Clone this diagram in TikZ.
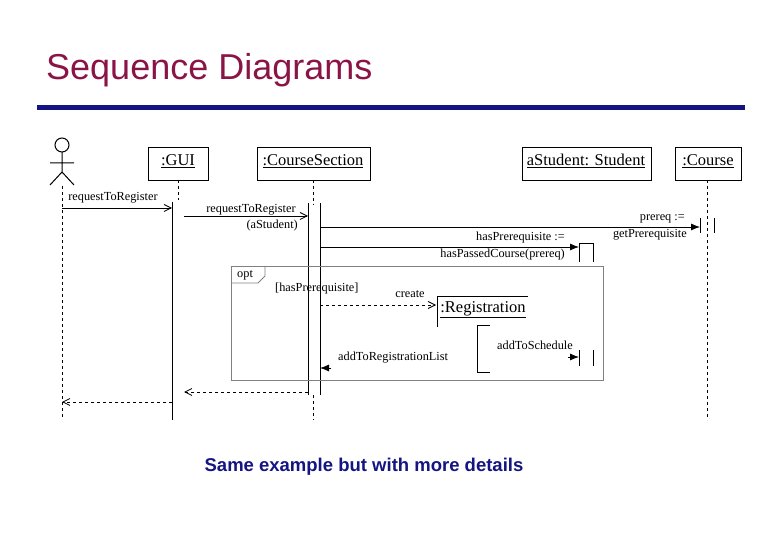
\documentclass[tikz,border=0pt]{standalone}
\usepackage{fontspec}
\setmainfont{Liberation Serif}
\newfontfamily\sansf{Liberation Sans}
\usetikzlibrary{arrows.meta}
\definecolor{titlered}{RGB}{139,20,70}
\definecolor{navy}{RGB}{20,20,130}
\begin{document}
\begin{tikzpicture}[x=1pt,y=-1pt,
  obj/.style={draw,line width=0.8pt,inner sep=0pt,font=\fontsize{16.5}{16.5}\selectfont},
  msg/.style={font=\fontsize{12.3}{12.3}\selectfont,inner sep=1pt},
  life/.style={dashed,line width=0.7pt},
  bar/.style={line width=0.8pt},
  call/.style={line width=0.8pt,-{Latex[length=9pt,width=7pt]}},
  ret/.style={line width=0.8pt,dashed,-{Straight Barb[length=7pt,width=7pt]}},
  sync/.style={line width=0.8pt,-{Straight Barb[length=7pt,width=7pt]}}]
\useasboundingbox (0,0) rectangle (780,540);
% title
\node[anchor=base west,inner sep=0pt,font=\sansf\fontsize{36}{36}\selectfont,text=titlered] (title) at (46,80) {Sequence Diagrams};
\fill[navy] (37,105) rectangle (745,110);
% actor
\draw[line width=1pt] (62,145) circle (7);
\coordinate (neck) at (62,152);
\coordinate (hip) at (62,172);
\draw[line width=1pt] (neck) -- (hip) (50,163) -- (74,163) (50,185) -- (hip) -- (74,185);
\coordinate (actTop) at (62,186);
\coordinate (actBot) at (62,418);
\draw[life] (actTop) -- (actBot);
% object boxes
\draw[line width=0.8pt] (148,147) rectangle (208,180);
\node[obj,draw=none] (gui) at (178,161) {\underline{:GUI}};
\draw[line width=0.8pt] (257,147) rectangle (370,180);
\node[obj,draw=none] (cs) at (313,161) {\underline{:CourseSection}};
\draw[line width=0.8pt] (522,147) rectangle (651,180);
\node[obj,draw=none] (stu) at (586,161) {\underline{aStudent: Student}};
\draw[line width=0.8pt] (675,147) rectangle (741,180);
\node[obj,draw=none] (crs) at (708,161) {\underline{:Course}};
% lifelines
\draw[life] (178,180) -- (178,200);
\draw[bar] (172,202) -- (172,420);
\draw[life] (313,180) -- (313,205);
\draw[bar] (308,203) -- (308,395) (320,203) -- (320,395);
\draw[life] (313,395) -- (313,420);
\draw[life] (707,180) -- (707,420);
\draw[bar] (700,218) -- (700,233) (714,218) -- (714,233);
\draw[bar] (579,262) -- (579,243) -- (593,243) -- (593,262);
% messages
\coordinate (m1a) at (62,208); \coordinate (m1b) at (172,208);
\draw[sync] (m1a) -- (m1b);
\node[msg,anchor=base] (l1) at (113,201) {requestToRegister};
\coordinate (m2a) at (184,216); \coordinate (m2b) at (308,216);
\draw[sync] (m2a) -- (m2b);
\node[msg,anchor=base] (l2) at (251,213) {requestToRegister};
\node[msg,anchor=base east] (l2b) at (299,229) {(aStudent)};
\coordinate (m3a) at (320,227); \coordinate (m3b) at (700,227);
\draw[call] (m3a) -- (m3b);
\node[msg,anchor=base east] (l3) at (686,221) {prereq :=};
\node[msg,anchor=base east] (l3b) at (688,238) {getPrerequisite};
\coordinate (m4a) at (320,247); \coordinate (m4b) at (579,247);
\draw[call] (m4a) -- (m4b);
\node[msg,anchor=base east] (l4) at (566,241) {hasPrerequisite :=};
\node[msg,anchor=base east] (l4b) at (566,258) {hasPassedCourse(prereq)};
% opt frame
\draw[gray,line width=0.8pt] (231,266) rectangle (603,380);
\draw[gray,line width=0.8pt] (231,283) -- (258,283) -- (265,276) -- (265,266);
\node[msg,anchor=base west] (opt) at (236,278) {opt};
\node[msg,anchor=base west] (guard) at (274,292) {[hasPrerequisite]};
% create
\draw[line width=0.8pt] (437,327) -- (437,296) -- (528,296);
\node[obj,draw=none] (reg) at (483,310) {\underline{:Registration}};
\coordinate (m5a) at (320,305); \coordinate (m5b) at (436,305);
\draw[ret] (m5a) -- (m5b);
\node[msg,anchor=base] (l5) at (410,298) {create};
% addToSchedule
\draw[bar] (490,325) -- (477,325) -- (477,372) -- (490,372);
\draw[bar] (579,350) -- (579,366) (593,350) -- (593,366);
\coordinate (m6a) at (568,357); \coordinate (m6b) at (579,357);
\draw[call] (m6a) -- (m6b);
\node[msg,anchor=base] (l6) at (535,349) {addToSchedule};
% addToRegistrationList
\coordinate (m7a) at (331,368); \coordinate (m7b) at (320,368);
\draw[call] (m7a) -- (m7b);
\node[msg,anchor=base west] (l7) at (337,360) {addToRegistrationList};
% returns
\coordinate (r1a) at (308,392); \coordinate (r1b) at (184,392);
\draw[ret] (r1a) -- (r1b);
\coordinate (r2a) at (172,402); \coordinate (r2b) at (62,402);
\draw[ret] (r2a) -- (r2b);
% caption
\node[anchor=base,inner sep=0pt,font=\sansf\bfseries\fontsize{18.5}{18.5}\selectfont,text=navy] (cap) at (364,471) {Same example but with more details};
\end{tikzpicture}
\end{document}
